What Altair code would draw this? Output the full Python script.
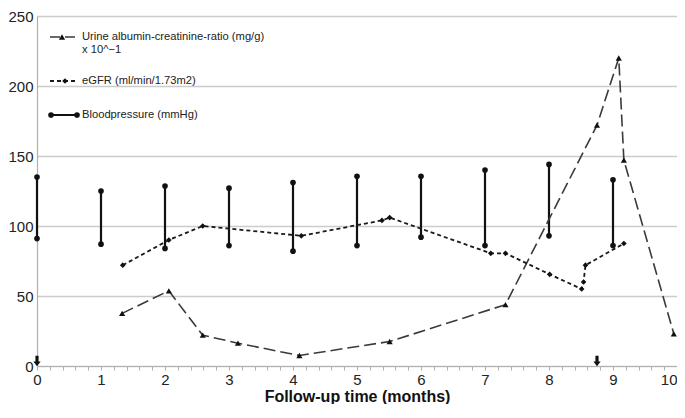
import altair as alt
import pandas as pd

# ---------------- data ----------------
bp_months = [0, 1, 2, 3, 4, 5, 6, 7, 8, 9]
bp_systolic = [135, 125, 128.5, 127, 131, 135.5, 135.5, 140, 144, 133]
bp_diastolic = [91, 87, 84, 86, 82, 86, 92, 86, 93, 86]

egfr_months = [1.34, 2.06, 2.59, 4.13, 5.39, 5.51, 7.09, 7.32, 8.01, 8.51, 8.54, 8.57, 9.17]
egfr_values = [72, 90, 100, 93, 104, 106, 80.5, 80.5, 65.5, 55, 60, 72, 87.5]

uacr_months = [1.33, 2.06, 2.59, 3.14, 4.1, 5.51, 7.32, 8.75, 9.09, 9.17, 9.95]
uacr_values = [37.6, 53.7, 22, 16.3, 7.5, 17.5, 43.8, 172, 220, 147, 23]

arrow_months = [0, 8.75]

x_ticks = [round(i * 0.2, 1) for i in range(51)]
y_ticks = [0, 50, 100, 150, 200, 250]

legend_labels = [
    "Urine albumin-creatinine-ratio (mg/g)",
    "x 10^\u22121",
    "eGFR (ml/min/1.73m2)",
    "Bloodpressure (mmHg)",
]

FONT = "Liberation Sans"

bp_df = pd.DataFrame({"month": bp_months, "sys": bp_systolic, "dia": bp_diastolic})
egfr_df = pd.DataFrame({"month": egfr_months, "value": egfr_values})
uacr_df = pd.DataFrame({"month": uacr_months, "value": uacr_values})
arrow_df = pd.DataFrame({"month": arrow_months})
one = pd.DataFrame({"k": [0]})

xscale = alt.Scale(domain=[0, 10], nice=False, zero=False)
yscale = alt.Scale(domain=[0, 250], nice=False)

xaxis = alt.Axis(
    values=x_ticks,
    labelExpr="datum.value % 1 == 0 ? format(datum.value, 'd') : ''",
    labelAlign={"condition": {"test": "datum.value >= 10", "value": "right"}, "value": "center"},
    title="Follow-up time (months)",
    grid=False,
    labelOverlap=False,
    labelFlush=False,
    tickSize=4,
    labelPadding=2,
    titlePadding=1,
)
yaxis = alt.Axis(
    values=y_ticks,
    title=None,
    grid=True,
    ticks=False,
    labelPadding=4,
)


def X(field="month"):
    return alt.X(f"{field}:Q", scale=xscale, axis=xaxis)


def Y(field="value"):
    return alt.Y(f"{field}:Q", scale=yscale, axis=yaxis)


bp_rule = alt.Chart(bp_df).mark_rule(color="#111", strokeWidth=2.2).encode(
    x=X(), y=Y("sys"), y2="dia:Q"
)
bp_top = alt.Chart(bp_df).mark_point(filled=True, shape="circle", size=32, color="#111", opacity=1).encode(
    x=X(), y=Y("sys")
)
bp_bot = alt.Chart(bp_df).mark_point(filled=True, shape="circle", size=32, color="#111", opacity=1).encode(
    x=X(), y=Y("dia")
)

egfr_line = alt.Chart(egfr_df).mark_line(color="#1a1a1a", strokeWidth=1.8, strokeDash=[4, 3]).encode(
    x=X(), y=Y()
)
egfr_pts = alt.Chart(egfr_df).mark_point(filled=True, shape="diamond", size=32, color="#111", opacity=1).encode(
    x=X(), y=Y()
)

uacr_line = alt.Chart(uacr_df).mark_line(color="#3a3a3a", strokeWidth=1.6, strokeDash=[12, 5]).encode(
    x=X(), y=Y()
)
uacr_pts = alt.Chart(uacr_df).mark_point(filled=True, shape="triangle-up", size=38, color="#111", opacity=1).encode(
    x=X(), y=Y()
)

arrow_path = "M -0.3 -1 L 0.3 -1 L 0.3 0.1 L 0.7 0.1 L 0 1 L -0.7 0.1 L -0.3 0.1 Z"
arrows = alt.Chart(arrow_df).mark_point(filled=True, shape=arrow_path, size=110, color="#111", opacity=1).encode(
    x=X(), y=alt.Y("y:Q", scale=yscale, axis=yaxis)
).transform_calculate(y="3.6")

# ---------------- legend (inside plot, top-left) ----------------
def ltext(i, px, py):
    return alt.Chart(one).mark_text(
        align="left", baseline="middle", font=FONT, fontSize=11.2, color="#222"
    ).encode(x=alt.value(px), y=alt.value(py), text=alt.value(legend_labels[i]))

leg = [
    alt.Chart(one).mark_rule(color="#3a3a3a", strokeWidth=1.6, strokeDash=[10, 5]).encode(
        x=alt.value(13), x2=alt.value(41), y=alt.value(21)
    ),
    alt.Chart(one).mark_point(filled=True, shape="triangle-up", size=38, color="#111", opacity=1).encode(
        x=alt.value(25), y=alt.value(21)
    ),
    ltext(0, 45, 21),
    ltext(1, 45, 34),
    alt.Chart(one).mark_rule(color="#1a1a1a", strokeWidth=1.8, strokeDash=[4, 3]).encode(
        x=alt.value(13), x2=alt.value(41), y=alt.value(65)
    ),
    alt.Chart(one).mark_point(filled=True, shape="diamond", size=32, color="#111", opacity=1).encode(
        x=alt.value(28), y=alt.value(65)
    ),
    ltext(2, 45, 65),
    alt.Chart(one).mark_rule(color="#111", strokeWidth=2).encode(
        x=alt.value(14), x2=alt.value(40), y=alt.value(99)
    ),
    alt.Chart(one).mark_point(filled=True, shape="circle", size=32, color="#111", opacity=1).encode(
        x=alt.value(14), y=alt.value(99)
    ),
    alt.Chart(one).mark_point(filled=True, shape="circle", size=32, color="#111", opacity=1).encode(
        x=alt.value(40), y=alt.value(99)
    ),
    ltext(3, 45, 99),
]

chart = alt.layer(
    bp_rule, bp_top, bp_bot, uacr_line, egfr_line, uacr_pts, egfr_pts, arrows, *leg
).properties(
    width=640,
    height=350,
    padding={"left": 29, "top": 8, "right": 0, "bottom": 38},
    autosize=alt.AutoSizeParams(type="none"),
    background="white",
).configure_view(
    stroke=None
).configure_axis(
    labelFont=FONT,
    labelFontSize=15,
    labelColor="#222",
    titleFont=FONT,
    titleFontSize=16,
    titleFontWeight="bold",
    titleColor="#111",
    domainColor="#b0b0b0",
    domainWidth=1.2,
    tickColor="#b0b0b0",
    gridColor="#cccccc",
    gridWidth=1.3,
)

chart.save("out.html", embed_options={"renderer": "svg", "actions": False})
